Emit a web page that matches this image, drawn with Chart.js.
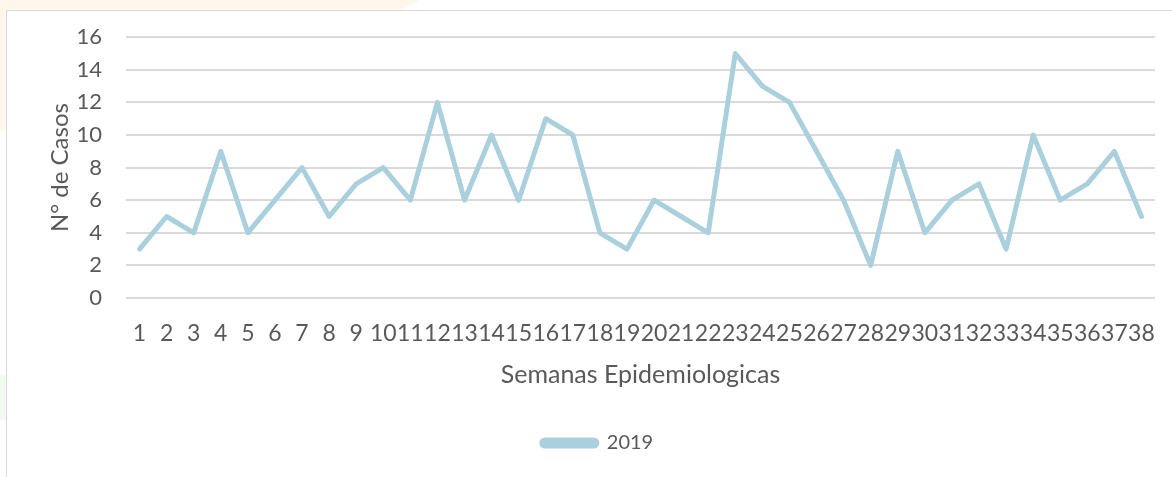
<!DOCTYPE html>
<html>
<head>
<meta charset="utf-8">
<script src="https://cdn.jsdelivr.net/npm/chart.js@4"></script>
<style>
    html, body { margin: 0; padding: 0; background: #ffffff; }
    #wrap { width: 1172px; height: 477px; position: relative; }
</style>
</head>
<body>
<div id="wrap"><canvas id="casosChart"></canvas></div>
<script>
const weeks = ['1','2','3','4','5','6','7','8','9','10','11','12','13','14','15','16','17','18','19',
    '20','21','22','23','24','25','26','27','28','29','30','31','32','33','34','35','36','37','38'];
const cases2019 = [3, 5, 4, 9, 4, 6, 8, 5, 7, 8, 6, 12, 6, 10, 6, 11, 10, 4, 3,
    6, 5, 4, 15, 13, 12, 9, 6, 2, 9, 4, 6, 7, 3, 10, 6, 7, 9, 5];
const yTicks = [0, 2, 4, 6, 8, 10, 12, 14, 16];

const textColor = '#595959';
const lineColor = '#abd0dd';

// faint page background + chart frame
const framePlugin = {
    id: 'frame',
    beforeDraw(chart) {
        const c = chart.ctx;
        c.save();
        c.fillStyle = '#fff7ec';
        c.beginPath();
        c.moveTo(0, 0);
        c.lineTo(420, 0);
        c.lineTo(400, 10);
        c.lineTo(0, 10);
        c.closePath();
        c.fill();
        c.fillRect(0, 0, 6, 130);
        c.fillStyle = '#f4f9f1';
        c.fillRect(0, 375, 6, 45);
        c.strokeStyle = '#d9d9d9';
        c.lineWidth = 1;
        c.beginPath();
        c.moveTo(6.5, 477);
        c.lineTo(6.5, 10.5);
        c.lineTo(1172, 10.5);
        c.stroke();
        c.restore();
    }
};

new Chart(document.getElementById('casosChart'), {
    type: 'line',
    data: {
        labels: weeks,
        datasets: [{
            label: '2019',
            data: cases2019,
            borderColor: lineColor,
            backgroundColor: lineColor,
            borderWidth: 5,
            pointRadius: 0,
            tension: 0,
            borderJoinStyle: 'round',
            borderCapStyle: 'round'
        }]
    },
    options: {
        responsive: true,
        maintainAspectRatio: false,
        animation: false,
        layout: {
            padding: { left: 40, right: 17, top: 31, bottom: 14 }
        },
        plugins: {
            legend: {
                position: 'bottom',
                labels: {
                    color: textColor,
                    font: { family: 'Lato', size: 20 },
                    boxWidth: 55,
                    boxHeight: 6,
                    useBorderRadius: true,
                    borderRadius: 3,
                    padding: 10
                }
            },
            tooltip: { enabled: false }
        },
        scales: {
            x: {
                offset: true,
                grid: { display: false },
                border: { display: false },
                ticks: {
                    color: textColor,
                    font: { family: 'Lato', size: 23 },
                    autoSkip: false,
                    maxRotation: 0,
                    padding: 14
                },
                title: {
                    display: true,
                    text: 'Semanas Epidemiologicas',
                    color: textColor,
                    font: { family: 'Lato', size: 25 },
                    padding: { top: 8, bottom: 33 }
                },
                afterFit(axis) { axis.height = 125; }
            },
            y: {
                min: 0,
                max: 16,
                afterBuildTicks(axis) { axis.ticks = yTicks.map(v => ({ value: v })); },
                grid: { color: '#d9d9d9', lineWidth: 2, drawTicks: false },
                border: { display: false },
                ticks: {
                    color: textColor,
                    font: { family: 'Lato', size: 22 },
                    padding: 24
                },
                title: {
                    display: true,
                    text: 'N° de Casos',
                    color: textColor,
                    font: { family: 'Lato', size: 24 },
                    padding: 6
                },
                afterFit(axis) { axis.width = 86; }
            }
        }
    },
    plugins: [framePlugin]
});
</script>
</body>
</html>
